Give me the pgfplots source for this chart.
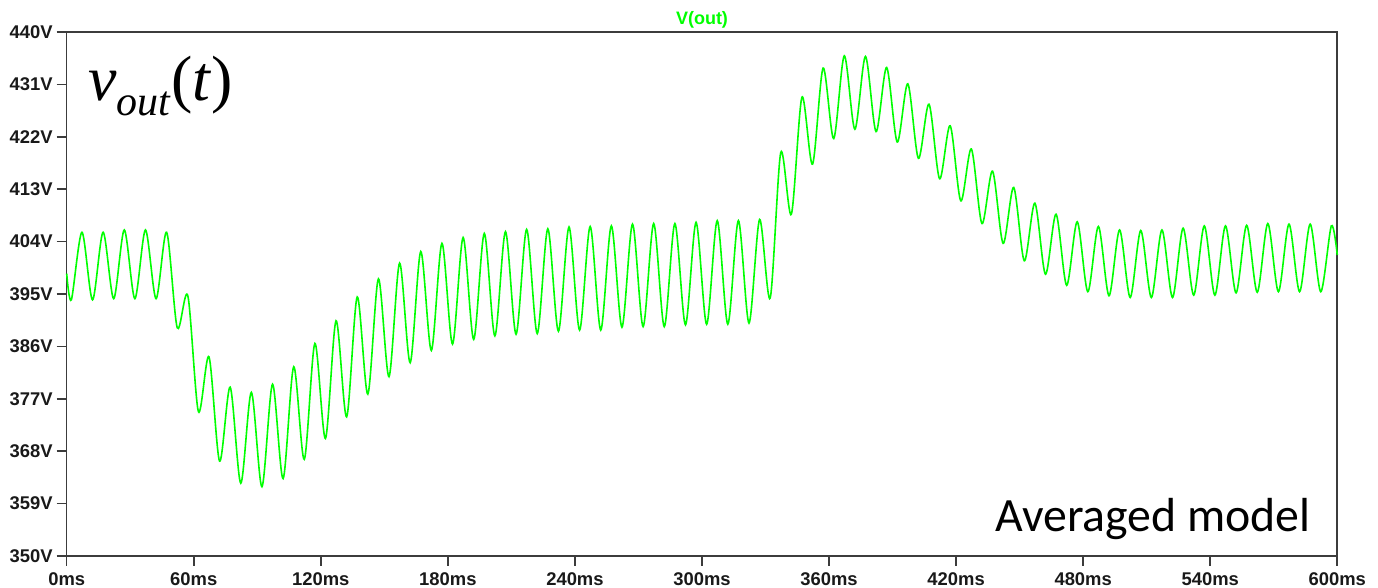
\documentclass[border=0pt]{standalone}
\usepackage{pgfplots}
\pgfplotsset{compat=1.18}
\usepackage{fontspec}
\setmainfont{Liberation Sans}
\newfontfamily\carlito{Carlito}
\newfontfamily\timesf{Liberation Serif}
\definecolor{ltgreen}{RGB}{0,255,0}
\definecolor{axgray}{RGB}{60,60,60}
\definecolor{lblcol}{RGB}{25,25,25}
\begin{document}
\begin{tikzpicture}
\path[use as bounding box] (-33.35pt,-16pt) rectangle (655.65pt,278pt);
\begin{axis}[
  at={(0,0)}, anchor=south west,
  scale only axis,
  width=635.3pt, height=262pt,
  xmin=0, xmax=600, ymin=350, ymax=440,
  axis line style={axgray, line width=0.8pt},
  tick style={axgray, line width=0.8pt},
  tick align=outside,
  major tick length=5pt,
  xtick pos=bottom, ytick pos=left,
  xtick={0,60,120,180,240,300,360,420,480,540,600},
  xticklabels={0ms,60ms,120ms,180ms,240ms,300ms,360ms,420ms,480ms,540ms,600ms},
  ytick={350,359,368,377,386,395,404,413,422,431,440},
  yticklabels={350V,359V,368V,377V,386V,395V,404V,413V,422V,431V,440V},
  ticklabel style={font=\fontsize{9.2}{10}\selectfont\bfseries, text=lblcol},
  yticklabel style={inner xsep=1.8pt},
  every axis title/.style={at={(0.5,1)}, anchor=base, yshift=3.5pt, inner sep=0pt,
    font=\fontsize{9}{10}\selectfont\bfseries, text=ltgreen},
  title={V(out)},
  clip=false,
]
\addplot[ltgreen, line width=0.8pt, smooth, tension=0.5] coordinates {
(0,398.5) (2.2,394.0) (7.2,405.6) (12.2,394.0) (17.2,405.6) (22.2,394.2)
(27.2,406.0) (32.2,394.2) (37.2,406.0) (42.2,394.2) (47.2,405.6) (52.2,389.2)
(57.2,394.7) (62.2,374.8) (67.2,384.2) (72.2,366.3) (77.2,379.0) (82.2,362.5)
(87.2,378.1) (92.2,361.9) (97.2,379.5) (102.2,363.3) (107.2,382.5) (112.2,366.6)
(117.2,386.5) (122.2,370.2) (127.2,390.4) (132.2,373.9) (137.2,394.5) (142.2,377.8)
(147.2,397.6) (152.2,380.8) (157.2,400.3) (162.2,383.2) (167.2,402.3) (172.2,385.3)
(177.2,403.7) (182.2,386.4) (187.2,404.7) (192.2,387.2) (197.2,405.4) (202.2,387.8)
(207.2,405.7) (212.2,388.1) (217.2,406.1) (222.2,388.2) (227.2,406.2) (232.2,388.6)
(237.2,406.5) (242.2,388.8) (247.2,406.6) (252.2,388.8) (257.2,406.7) (262.2,389.3)
(267.2,407.0) (272.2,389.4) (277.2,407.1) (282.2,389.4) (287.2,407.1) (292.2,389.7)
(297.2,407.3) (302.2,389.8) (307.2,407.6) (312.2,389.8) (317.2,407.6) (322.2,390.0)
(327.2,407.8) (332.2,394.3) (337.2,419.3) (342.2,408.7) (347.2,428.8) (352.2,417.3)
(357.2,433.8) (362.2,421.7) (367.2,435.9) (372.2,423.3) (377.2,435.8) (382.2,422.9)
(387.2,433.9) (392.2,421.1) (397.2,431.1) (402.2,418.3) (407.2,427.6) (412.2,414.8)
(417.2,423.9) (422.2,411.0) (427.2,419.9) (432.2,407.1) (437.2,416.1) (442.2,403.7)
(447.2,413.3) (452.2,400.7) (457.2,410.6) (462.2,398.4) (467.2,408.7) (472.2,396.5)
(477.2,407.4) (482.2,395.4) (487.2,406.6) (492.2,394.7) (497.2,406.0) (502.2,394.4)
(507.2,405.9) (512.2,394.4) (517.2,406.0) (522.2,394.4) (527.2,406.3) (532.2,394.8)
(537.2,406.7) (542.2,394.8) (547.2,406.7) (552.2,395.2) (557.2,406.8) (562.2,395.3)
(567.2,407.1) (572.2,395.4) (577.2,407.0) (582.2,395.4) (587.2,407.0) (592.2,395.4)
(597.2,406.7) (600,401.7)
};
\node[anchor=base west, inner sep=0pt] at (rel axis cs:0.0168,0.870)
  {\timesf\fontsize{32}{36}\selectfont\textit{v}\raisebox{-7.5pt}{\fontsize{21}{24}\selectfont\textit{out}}(\textit{t})};
\node[anchor=base west, inner sep=0pt] at (rel axis cs:0.7306,0.0458)
  {\carlito\fontsize{23.9}{28}\selectfont Averaged model};
\end{axis}
\end{tikzpicture}
\end{document}
